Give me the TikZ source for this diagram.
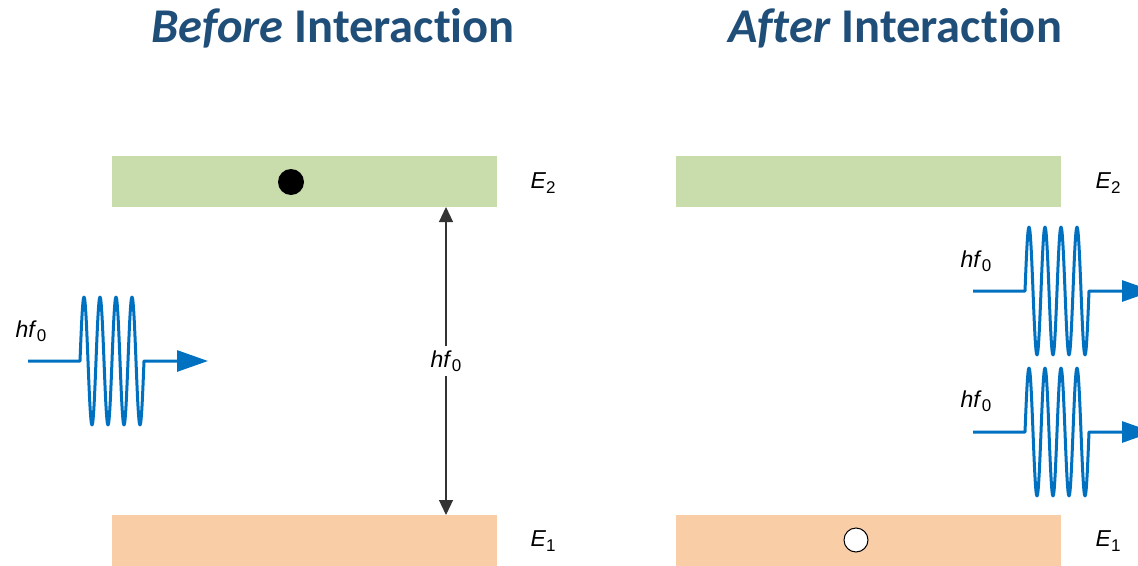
\documentclass[tikz,border=0pt]{standalone}
\usepackage{fontspec}
\setmainfont{Liberation Sans}
\newfontfamily\titlefont[Ligatures={NoCommon,NoRare,NoDiscretionary}]{Carlito}
\usetikzlibrary{arrows.meta}
\definecolor{titleblue}{HTML}{1F4E79}
\definecolor{barg}{HTML}{C9DCAB}
\definecolor{baro}{HTML}{F9CDA6}
\definecolor{waveblue}{HTML}{0070C0}
\newcommand\lowsub[1]{\raisebox{-4.5pt}{\fontsize{17}{17}\selectfont #1}}
\newcommand\hfz{\textit{hf}\lowsub{0}}
\newcommand\photonpath{(0,0) -- (52,0)
  sin ++(4,-64) cos ++(4,64) sin ++(4,64) cos ++(4,-64)
  sin ++(4,-64) cos ++(4,64) sin ++(4,64) cos ++(4,-64)
  sin ++(4,-64) cos ++(4,64) sin ++(4,64) cos ++(4,-64)
  sin ++(4,-64) cos ++(4,64) sin ++(4,64) cos ++(4,-64)
  -- (180,0)}
\begin{document}
\begin{tikzpicture}[x=1pt,y=-1pt,
  bar/.style={minimum width=385pt, minimum height=51pt, inner sep=0pt, draw=none, anchor=north west},
  lbl/.style={font=\fontsize{23}{27}\selectfont, inner sep=1pt},
  ttl/.style={font=\titlefont\bfseries\fontsize{48.5}{52}\selectfont, text=titleblue, anchor=base},
  photon/.style={draw=waveblue, line width=3pt, line join=round, -{Triangle[length=31pt,width=21pt]}},
  gap/.style={draw=black!80, line width=1.2pt, {Triangle[length=15pt,width=14pt]}-{Triangle[length=15pt,width=14pt]}}
]
\clip (0,0) rectangle (1138,565);

% titles
\node[ttl] (t1) at (333,42) {\textit{Before} Interact\kern0pt ion};
\node[ttl] (t2) at (895,42) {\textit{After} Interact\kern0pt ion};

% bars
\node[bar, fill=barg] (u1) at (112,156) {};
\node[bar, fill=baro] (l1) at (112,515) {};
\node[bar, fill=barg] (u2) at (676,156) {};
\node[bar, fill=baro] (l2) at (676,515) {};

% level labels
\node[lbl] (e21) at (543,183) {\textit{E}\lowsub{2}};
\node[lbl] (e11) at (543,541) {\textit{E}\lowsub{1}};
\node[lbl] (e22) at (1108,183) {\textit{E}\lowsub{2}};
\node[lbl] (e12) at (1108,541) {\textit{E}\lowsub{1}};

% electrons
\node[circle, fill=black, minimum size=26pt, inner sep=0pt] (el1) at (291,182) {};
\node[circle, draw=black, line width=1pt, fill=white, minimum size=24pt, inner sep=0pt] (el2) at (856,540) {};

% energy gap arrow
\coordinate (gt) at (446,207);
\coordinate (gb) at (446,515);
\draw[gap] (gt) -- (gb) node[midway, lbl, fill=white, inner sep=4pt] (gl) {\hfz};

% photons
\coordinate (w1) at (28,361);
\coordinate (w2) at (973,291);
\coordinate (w3) at (973,432);
\begin{scope}[shift={(w1)}]
  \draw[photon] \photonpath;
\end{scope}
\begin{scope}[shift={(w2)}]
  \draw[photon] \photonpath;
\end{scope}
\begin{scope}[shift={(w3)}]
  \draw[photon] \photonpath;
\end{scope}
\node[lbl] (p1) at (31,331) {\hfz};
\node[lbl] (p2) at (976,261) {\hfz};
\node[lbl] (p3) at (976,401) {\hfz};
\end{tikzpicture}
\end{document}
